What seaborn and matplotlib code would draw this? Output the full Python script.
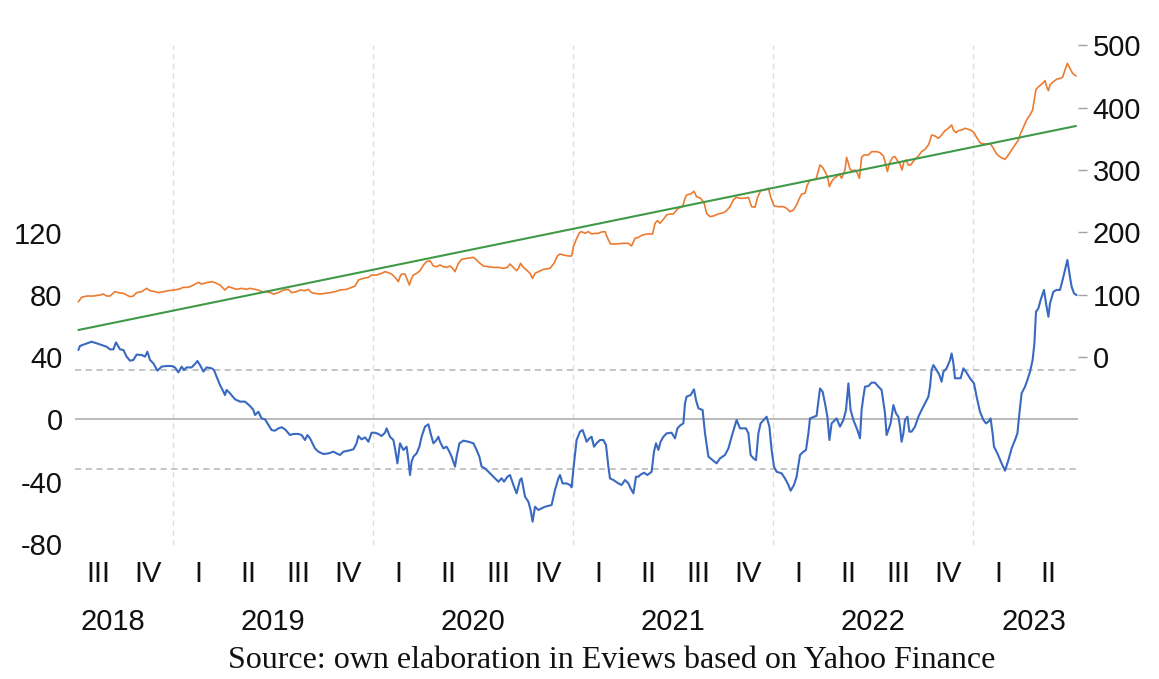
import numpy as np
import matplotlib
matplotlib.use("Agg")
import matplotlib.pyplot as plt
import seaborn as sns

# ------------------------------------------------------------
# data (time in decimal years)
# residual (left axis), actual (right axis), fitted trend (right axis)
# ------------------------------------------------------------
resid_obs = [
    (2018.527, 44.7), (2018.535, 47.3), (2018.560, 48.5), (2018.593, 50.0), (2018.618, 49.0),
    (2018.643, 47.9), (2018.668, 46.8), (2018.685, 45.1), (2018.702, 45.1), (2018.715, 49.6),
    (2018.735, 45.1), (2018.752, 44.7), (2018.768, 40.4), (2018.785, 37.8), (2018.802, 38.3),
    (2018.818, 41.7), (2018.843, 41.5), (2018.860, 40.4), (2018.872, 43.6), (2018.885, 38.3),
    (2018.902, 36.1), (2018.922, 31.4), (2018.943, 34.0), (2018.968, 34.4), (2018.993, 34.4),
    (2019.010, 33.5), (2019.027, 30.3), (2019.043, 34.0), (2019.055, 31.8), (2019.068, 33.5),
    (2019.093, 33.5), (2019.110, 35.7), (2019.122, 37.6), (2019.135, 35.0), (2019.152, 30.8),
    (2019.168, 33.5), (2019.193, 32.9), (2019.205, 31.8), (2019.218, 27.5), (2019.235, 22.2),
    (2019.252, 17.9), (2019.260, 15.7), (2019.268, 19.0), (2019.285, 16.8), (2019.310, 13.0),
    (2019.335, 11.5), (2019.360, 11.5), (2019.385, 8.7), (2019.402, 6.1), (2019.410, 2.9),
    (2019.427, 5.0), (2019.443, 0.7), (2019.460, 0.1), (2019.477, -3.5), (2019.493, -6.8),
    (2019.510, -7.2), (2019.527, -5.7), (2019.543, -5.0), (2019.560, -6.3), (2019.585, -10.0),
    (2019.602, -9.3), (2019.627, -9.3), (2019.643, -10.0), (2019.660, -13.2), (2019.672, -10.0),
    (2019.685, -12.1), (2019.710, -18.6), (2019.727, -20.7), (2019.752, -22.2), (2019.777, -21.8),
    (2019.802, -20.7), (2019.818, -21.8), (2019.835, -22.8), (2019.852, -20.7), (2019.877, -20.0),
    (2019.902, -19.2), (2019.918, -15.3), (2019.927, -10.6), (2019.943, -12.8), (2019.960, -11.5),
    (2019.977, -14.3), (2019.993, -8.5), (2020.010, -8.5), (2020.027, -9.3), (2020.043, -10.6),
    (2020.060, -8.5), (2020.068, -5.7), (2020.085, -11.1), (2020.102, -13.2), (2020.110, -18.6),
    (2020.122, -28.2), (2020.135, -15.3), (2020.152, -19.6), (2020.168, -17.5), (2020.177, -26.1),
    (2020.185, -35.7), (2020.193, -27.1), (2020.202, -23.9), (2020.218, -21.8), (2020.232, -17.5),
    (2020.243, -11.1), (2020.260, -4.6), (2020.277, -3.1), (2020.288, -8.9), (2020.302, -15.3),
    (2020.315, -13.6), (2020.327, -11.1), (2020.335, -14.3), (2020.352, -18.6), (2020.368, -17.5),
    (2020.382, -20.7), (2020.393, -23.9), (2020.410, -30.3), (2020.418, -23.9), (2020.432, -15.3),
    (2020.452, -13.6), (2020.477, -14.3), (2020.502, -15.3), (2020.518, -19.6), (2020.532, -23.9),
    (2020.543, -30.3), (2020.560, -31.4), (2020.585, -34.6), (2020.610, -37.8), (2020.627, -40.0),
    (2020.643, -37.8), (2020.655, -40.0), (2020.672, -36.8), (2020.685, -35.7), (2020.702, -42.1),
    (2020.718, -47.5), (2020.735, -38.9), (2020.743, -37.8), (2020.760, -49.6), (2020.777, -52.9),
    (2020.788, -58.2), (2020.798, -65.7), (2020.810, -56.1), (2020.827, -58.2), (2020.843, -57.1),
    (2020.860, -56.1), (2020.893, -55.0), (2020.910, -45.3), (2020.927, -37.8), (2020.935, -35.7),
    (2020.948, -41.1), (2020.968, -41.1), (2020.985, -42.1), (2020.993, -43.6),
    (2021.005, -28.2), (2021.018, -13.2), (2021.035, -7.8), (2021.048, -6.8), (2021.060, -11.1),
    (2021.068, -14.3), (2021.082, -12.1), (2021.093, -11.1), (2021.105, -17.5), (2021.118, -15.3),
    (2021.135, -13.2), (2021.152, -13.2), (2021.165, -16.4), (2021.177, -30.4), (2021.185, -37.9),
    (2021.202, -38.9), (2021.227, -41.1), (2021.243, -42.1), (2021.260, -38.9), (2021.277, -41.1),
    (2021.288, -44.3), (2021.302, -47.5), (2021.315, -36.8), (2021.327, -36.8), (2021.335, -35.7),
    (2021.355, -34.2), (2021.372, -35.7), (2021.393, -33.6), (2021.405, -20.7), (2021.415, -15.3),
    (2021.427, -19.6), (2021.438, -14.3), (2021.452, -11.1), (2021.468, -8.9), (2021.493, -8.5),
    (2021.510, -12.1), (2021.522, -5.7), (2021.538, -3.6), (2021.552, -2.5), (2021.560, 10.4),
    (2021.568, 14.7), (2021.588, 15.7), (2021.605, 19.4), (2021.615, 12.5), (2021.627, 7.2),
    (2021.648, 6.1), (2021.660, -8.9), (2021.677, -23.9), (2021.693, -25.6), (2021.718, -28.2),
    (2021.735, -25.0), (2021.760, -22.8), (2021.777, -18.6), (2021.793, -11.1), (2021.818, -0.3),
    (2021.835, -5.7), (2021.865, -5.7), (2021.877, -8.9), (2021.888, -22.8), (2021.902, -25.0),
    (2021.915, -26.1), (2021.927, -8.9), (2021.938, -2.5), (2021.968, 1.8), (2021.982, -4.6),
    (2021.993, -19.6), (2022.005, -30.4), (2022.018, -33.6), (2022.043, -34.6), (2022.060, -37.9),
    (2022.077, -42.1), (2022.088, -45.8), (2022.105, -42.1), (2022.118, -36.8), (2022.135, -22.8),
    (2022.152, -20.7), (2022.165, -19.6), (2022.177, -8.9), (2022.185, 0.7), (2022.218, 2.4),
    (2022.235, 20.0), (2022.248, 17.9), (2022.260, 10.4), (2022.272, 1.8), (2022.282, -13.2),
    (2022.293, -2.5), (2022.310, -0.3), (2022.318, 0.7), (2022.335, -4.6), (2022.352, -0.3),
    (2022.365, 6.1), (2022.377, 23.2), (2022.388, 6.1), (2022.402, -0.3), (2022.422, -6.8),
    (2022.435, -12.1), (2022.443, 6.1), (2022.452, 14.7), (2022.460, 21.1), (2022.477, 21.5),
    (2022.493, 23.7), (2022.510, 23.7), (2022.527, 21.1), (2022.543, 19.0), (2022.560, 3.9),
    (2022.568, -10.0), (2022.577, -6.8), (2022.588, -2.5), (2022.602, 9.3), (2022.615, 3.9),
    (2022.627, 1.8), (2022.635, -4.6), (2022.643, -14.3), (2022.652, -8.9), (2022.660, -0.3),
    (2022.672, 1.8), (2022.682, -7.8), (2022.693, -7.8), (2022.710, -4.6), (2022.727, 1.8),
    (2022.743, 6.1), (2022.760, 10.4), (2022.777, 14.7), (2022.785, 21.1), (2022.793, 31.8),
    (2022.802, 35.0), (2022.818, 31.8), (2022.832, 28.6), (2022.843, 24.3), (2022.852, 30.7),
    (2022.868, 32.9), (2022.885, 38.2), (2022.893, 42.5), (2022.902, 36.1), (2022.910, 26.5),
    (2022.927, 26.5), (2022.938, 26.5), (2022.952, 32.9), (2022.968, 30.1), (2022.985, 26.5),
    (2023.005, 23.2), (2023.018, 14.7), (2023.035, 5.0), (2023.052, -0.3), (2023.065, -2.5),
    (2023.077, -1.4), (2023.088, 0.7), (2023.098, -8.9), (2023.105, -17.5), (2023.122, -21.8),
    (2023.143, -28.2), (2023.160, -32.9), (2023.177, -26.1), (2023.193, -18.6), (2023.210, -13.2),
    (2023.222, -8.9), (2023.232, 3.9), (2023.243, 16.8), (2023.260, 21.1), (2023.272, 25.4),
    (2023.285, 30.7), (2023.298, 38.2), (2023.307, 49.0), (2023.315, 69.3), (2023.327, 71.5),
    (2023.338, 76.8), (2023.355, 83.3), (2023.365, 74.7), (2023.377, 66.1), (2023.385, 74.7),
    (2023.402, 82.2), (2023.418, 83.3), (2023.435, 83.3), (2023.448, 89.7), (2023.460, 96.1),
    (2023.472, 102.6), (2023.482, 94.0), (2023.493, 85.4), (2023.505, 81.1), (2023.518, 80.0),
]

actual_obs = [
    (2018.527, 89.0), (2018.543, 96.0), (2018.568, 98.1), (2018.602, 98.1), (2018.635, 99.7),
    (2018.652, 101.3), (2018.668, 98.1), (2018.685, 98.1), (2018.710, 105.1), (2018.727, 103.5),
    (2018.752, 102.4), (2018.768, 99.7), (2018.785, 97.0), (2018.802, 98.1), (2018.818, 103.5),
    (2018.843, 105.1), (2018.868, 110.4), (2018.885, 106.7), (2018.910, 105.1), (2018.927, 103.5),
    (2018.952, 105.1), (2018.977, 106.7), (2019.002, 107.7), (2019.027, 108.8), (2019.052, 112.0),
    (2019.077, 112.0), (2019.102, 115.7), (2019.127, 120.0), (2019.143, 117.3), (2019.168, 119.5),
    (2019.193, 121.1), (2019.210, 119.5), (2019.235, 115.7), (2019.260, 107.7), (2019.277, 113.1),
    (2019.302, 110.4), (2019.318, 108.8), (2019.343, 110.4), (2019.368, 108.8), (2019.385, 110.4),
    (2019.410, 108.8), (2019.427, 107.7), (2019.443, 105.1), (2019.468, 105.1), (2019.485, 103.5),
    (2019.505, 101.3), (2019.527, 103.5), (2019.552, 107.7), (2019.577, 108.8), (2019.593, 103.5),
    (2019.618, 105.1), (2019.635, 107.7), (2019.660, 106.7), (2019.677, 108.8), (2019.693, 103.5),
    (2019.710, 102.4), (2019.735, 101.3), (2019.760, 102.4), (2019.785, 103.5), (2019.810, 105.1),
    (2019.835, 107.7), (2019.868, 108.8), (2019.893, 112.0), (2019.910, 114.1), (2019.927, 123.7),
    (2019.952, 126.4), (2019.977, 128.0), (2019.993, 131.7), (2020.018, 131.7), (2020.043, 134.4),
    (2020.060, 137.1), (2020.077, 135.5), (2020.093, 133.3), (2020.110, 128.0), (2020.127, 121.1),
    (2020.135, 129.1), (2020.143, 133.3), (2020.160, 133.3), (2020.172, 123.7), (2020.182, 115.7),
    (2020.193, 126.4), (2020.202, 131.7), (2020.218, 134.4), (2020.235, 138.7), (2020.252, 147.8),
    (2020.268, 153.1), (2020.285, 154.7), (2020.302, 146.2), (2020.318, 145.1), (2020.335, 147.8),
    (2020.352, 145.1), (2020.368, 144.0), (2020.385, 146.2), (2020.398, 142.4), (2020.410, 137.1),
    (2020.427, 150.4), (2020.443, 156.8), (2020.468, 158.4), (2020.502, 160.0), (2020.518, 155.8),
    (2020.535, 150.4), (2020.552, 146.2), (2020.577, 145.1), (2020.602, 144.0), (2020.627, 144.0),
    (2020.652, 142.4), (2020.672, 144.0), (2020.685, 149.4), (2020.702, 144.0), (2020.718, 138.7),
    (2020.727, 142.4), (2020.738, 150.4), (2020.752, 144.0), (2020.768, 139.7), (2020.785, 134.4),
    (2020.798, 126.4), (2020.810, 134.4), (2020.827, 137.1), (2020.852, 140.8), (2020.885, 142.4),
    (2020.905, 150.4), (2020.922, 162.2), (2020.935, 165.4), (2020.952, 163.8), (2020.977, 162.2),
    (2020.993, 162.2), (2021.002, 177.1), (2021.015, 187.8), (2021.032, 199.5),
    (2021.043, 201.2), (2021.060, 198.5), (2021.077, 201.2), (2021.093, 197.5), (2021.110, 198.5),
    (2021.127, 198.5), (2021.143, 200.7), (2021.160, 201.2), (2021.177, 187.9), (2021.188, 181.5),
    (2021.218, 181.5), (2021.252, 182.5), (2021.277, 182.5), (2021.293, 178.3), (2021.310, 190.5),
    (2021.327, 192.1), (2021.348, 195.9), (2021.372, 197.5), (2021.398, 197.5), (2021.410, 214.5),
    (2021.422, 218.8), (2021.435, 214.5), (2021.452, 221.0), (2021.468, 227.9), (2021.485, 229.5),
    (2021.502, 229.5), (2021.518, 235.9), (2021.527, 238.6), (2021.548, 241.2), (2021.560, 254.6),
    (2021.568, 259.9), (2021.588, 261.5), (2021.605, 265.8), (2021.618, 257.2), (2021.638, 254.6),
    (2021.655, 247.6), (2021.668, 230.6), (2021.685, 225.2), (2021.702, 226.3), (2021.727, 229.5),
    (2021.752, 231.6), (2021.768, 234.8), (2021.785, 241.2), (2021.802, 251.9), (2021.815, 256.2),
    (2021.835, 254.6), (2021.860, 254.6), (2021.877, 256.2), (2021.893, 241.2), (2021.910, 240.2),
    (2021.923, 256.2), (2021.938, 266.9), (2021.960, 267.9), (2021.977, 270.6), (2021.988, 257.2),
    (2022.005, 242.3), (2022.027, 241.2), (2022.052, 241.2), (2022.068, 238.6), (2022.085, 233.2),
    (2022.102, 235.9), (2022.118, 243.9), (2022.132, 254.6), (2022.143, 261.5), (2022.160, 262.6),
    (2022.172, 275.9), (2022.185, 283.9), (2022.215, 285.0), (2022.235, 308.0), (2022.248, 304.2),
    (2022.260, 297.3), (2022.272, 289.3), (2022.282, 273.3), (2022.293, 281.3), (2022.305, 286.6),
    (2022.318, 289.3), (2022.332, 293.5), (2022.343, 286.6), (2022.360, 299.9), (2022.368, 320.2),
    (2022.377, 310.6), (2022.385, 301.0), (2022.398, 298.9), (2022.410, 299.9), (2022.422, 294.6),
    (2022.432, 286.6), (2022.443, 320.2), (2022.455, 324.0), (2022.477, 324.0), (2022.493, 329.3),
    (2022.518, 329.3), (2022.535, 327.7), (2022.552, 322.4), (2022.562, 310.6), (2022.572, 297.3),
    (2022.582, 310.6), (2022.598, 320.2), (2022.610, 321.3), (2022.622, 314.9), (2022.635, 309.6),
    (2022.645, 299.9), (2022.655, 313.3), (2022.665, 316.0), (2022.677, 308.0), (2022.688, 308.0),
    (2022.710, 317.0), (2022.727, 322.4), (2022.743, 329.3), (2022.760, 333.0), (2022.777, 340.0),
    (2022.785, 346.9), (2022.793, 356.0), (2022.810, 354.4), (2022.827, 350.7), (2022.843, 356.0),
    (2022.860, 362.9), (2022.877, 366.7), (2022.893, 372.0), (2022.902, 364.0), (2022.915, 359.7),
    (2022.927, 362.9), (2022.943, 364.0), (2022.960, 366.7), (2022.977, 365.1), (2022.993, 362.9),
    (2023.005, 359.7), (2023.018, 352.3), (2023.035, 343.7), (2023.052, 341.6), (2023.072, 341.6),
    (2023.088, 341.6), (2023.102, 334.6), (2023.118, 325.6), (2023.138, 320.2), (2023.160, 317.0),
    (2023.177, 324.0), (2023.193, 332.0), (2023.210, 340.0), (2023.227, 348.0), (2023.238, 358.7),
    (2023.252, 368.3), (2023.268, 380.0), (2023.285, 388.0), (2023.298, 396.0), (2023.305, 409.4),
    (2023.315, 429.1), (2023.332, 434.5), (2023.348, 438.7), (2023.360, 443.0), (2023.368, 433.4),
    (2023.377, 427.0), (2023.385, 436.1), (2023.402, 441.4), (2023.418, 445.1), (2023.435, 446.7),
    (2023.448, 448.3), (2023.460, 460.1), (2023.472, 470.7), (2023.485, 462.7), (2023.498, 454.7),
    (2023.515, 450.5),
]

# fitted linear trend: start and end of the sample
fitted_t = [2018.527, 2023.515]
fitted_v = [43.7, 370.4]

resid_se = 31.8   # +/- 1 S.E. band on the residual axis

quarter_pos = [2018.625 + 0.25 * i for i in range(20)]
quarter_lab = ["III", "IV"] + ["I", "II", "III", "IV"] * 4 + ["I", "II"]
year_pos = [2018.70, 2019.5, 2020.5, 2021.5, 2022.5, 2023.305]
year_lab = ["2018", "2019", "2020", "2021", "2022", "2023"]
year_lines = [2019, 2020, 2021, 2022, 2023]

source_txt = "Source: own elaboration in Eviews based on Yahoo Finance"

c_resid = "#3a69c1"
c_actual = "#ec7b30"
c_fitted = "#3f9a48"

# ------------------------------------------------------------
sns.set_style("white")
plt.rcParams["font.family"] = ["Liberation Sans", "DejaVu Sans"]
plt.rcParams["axes.unicode_minus"] = False

W, H = 1159, 679
fig = plt.figure(figsize=(W / 100, H / 100), dpi=100)
ax = fig.add_axes([75 / W, 1 - 545 / H, (1078 - 75) / W, 500 / H])
ax2 = ax.twinx()

rt, rv = zip(*resid_obs)
at, av = zip(*actual_obs)

# reference lines on residual axis
for yr in year_lines:
    ax.axvline(yr, color="#dedede", lw=1.0, ls=(0, (4, 3)), zorder=0)
ax.axhline(0, color="#b4b4b4", lw=1.3, zorder=1)
ax.axhline(resid_se, color="#b4b4b4", lw=1.1, ls=(0, (4, 3)), zorder=1)
ax.axhline(-resid_se, color="#b4b4b4", lw=1.1, ls=(0, (4, 3)), zorder=1)

sns.lineplot(x=list(rt), y=list(rv), ax=ax, color=c_resid, lw=1.5,
             estimator=None, sort=False, zorder=3)
sns.lineplot(x=list(at), y=list(av), ax=ax2, color=c_actual, lw=1.2,
             estimator=None, sort=False, zorder=3)
sns.lineplot(x=fitted_t, y=fitted_v, ax=ax2, color=c_fitted, lw=1.5,
             estimator=None, sort=False, zorder=3)

ax.set_xlim(2018.51, 2023.525)
ax.set_ylim(-80.7, 240.8)
ax2.set_ylim(-300.6, 500.1)

for a in (ax, ax2):
    for s in a.spines.values():
        s.set_visible(False)
    a.set_xlabel("")
    a.set_ylabel("")
    a.grid(False)

ax.set_yticks([-80, -40, 0, 40, 80, 120])
ax.tick_params(axis="y", length=0, pad=9, labelsize=21, labelcolor="#111111")
ax2.set_yticks([0, 100, 200, 300, 400, 500])
ax2.tick_params(axis="y", length=6.5, width=1, color="#a0a0a0", pad=4,
                labelsize=21, labelcolor="#111111")

ax.set_xticks(quarter_pos)
ax.set_xticklabels(quarter_lab)
ax.set_xticks(year_pos, minor=True)
ax.set_xticklabels(year_lab, minor=True)
ax.tick_params(axis="x", which="major", length=0, pad=11, labelsize=21, labelcolor="#111111")
ax.tick_params(axis="x", which="minor", length=0, pad=45, labelsize=21, labelcolor="#111111")

fig.text(0.5276, 1 - 661 / H, source_txt, ha="center", va="center",
         fontsize=23, family=["Liberation Serif", "DejaVu Serif"], color="#111111")

fig.savefig("out.png", dpi=100, facecolor="white")
